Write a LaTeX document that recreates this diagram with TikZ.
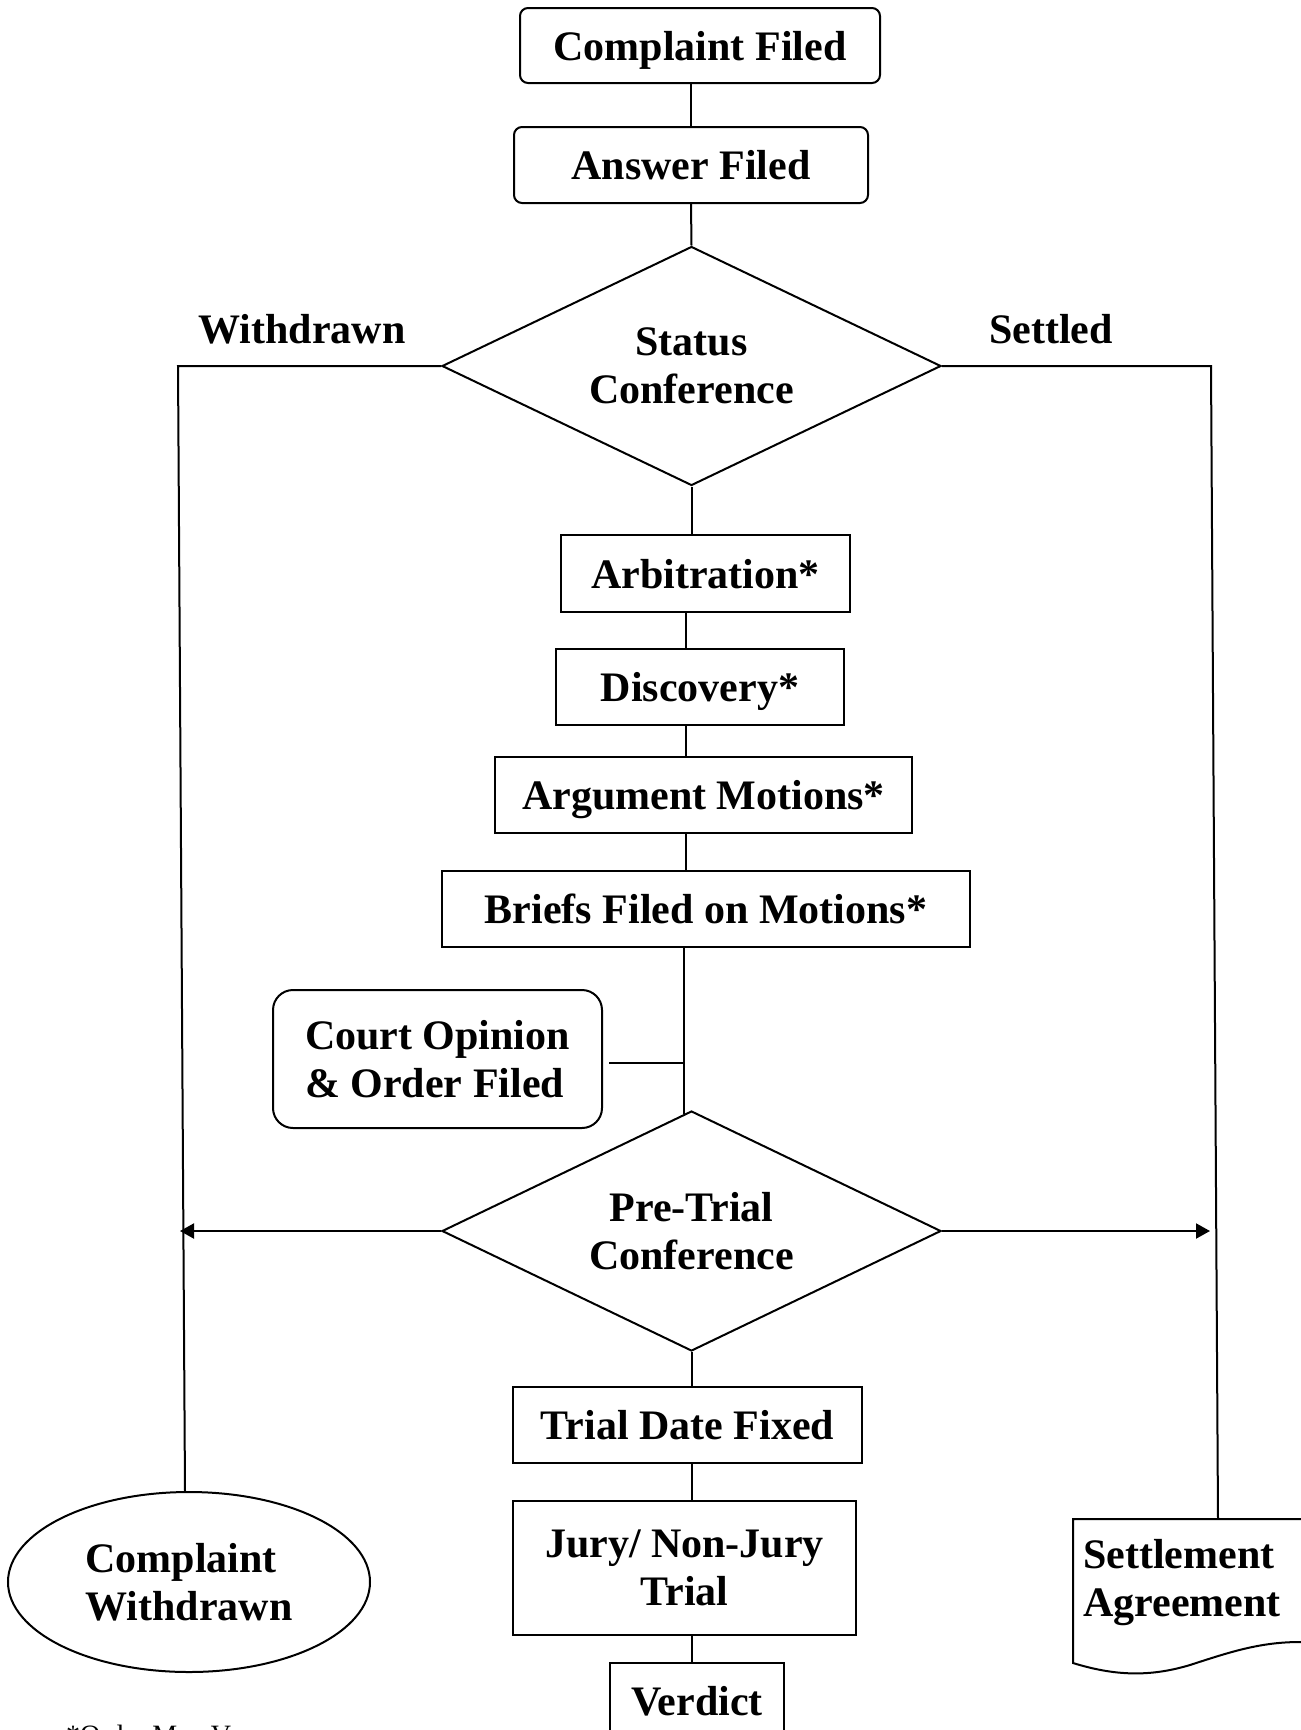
\documentclass[tikz,border=0pt]{standalone}
\usepackage{fontspec}
\setmainfont{Liberation Serif}
\usetikzlibrary{shapes.geometric,arrows.meta,calc}
\begin{document}
\begin{tikzpicture}[x=1pt,y=-1pt,
  every node/.style={font=\bfseries\fontsize{42}{48}\selectfont, inner sep=0pt},
  box/.style={draw, line width=2pt, text height=29pt, text depth=0pt},
  rbox/.style={box, rounded corners=8pt},
  dia/.style={draw, diamond, shape aspect=2, line width=2pt, align=center},
  conn/.style={line width=2pt},
  arr/.style={line width=2pt, -{Triangle[length=14pt,width=15pt]}},
  lbl/.style={anchor=base}
]
\useasboundingbox (0,0) rectangle (1301,1730);
\clip (0,0) rectangle (1301,1730);
\fill[white] (0,0) rectangle (1301,1730);

% nodes
\node[rbox, minimum width=360pt, minimum height=75pt] (complaint) at (700,45.5) {Complaint Filed};
\node[rbox, minimum width=354pt, minimum height=76pt] (answer) at (691,165) {Answer Filed};
\node[dia, minimum width=499pt, minimum height=239pt] (status) at (691.5,366) {Status\\Conference};
\node[lbl] (withdrawn) at (302,343) {Withdrawn};
\node[lbl] (settled) at (1051,343) {Settled};

\node[box, minimum width=289pt, minimum height=77pt] (arbitration) at (705.5,573.5) {Arbitration*};
\node[box, minimum width=288pt, minimum height=76pt] (discovery) at (700,687) {Discovery*};
\node[box, minimum width=417pt, minimum height=76pt] (argument) at (703.5,795) {Argument Motions*};
\node[box, minimum width=528pt, minimum height=76pt] (briefs) at (706,909) {Briefs Filed on Motions*};

\node[draw, line width=2pt, rounded corners=20pt, minimum width=329pt, minimum height=138pt, align=left] (court) at (437.5,1059) {Court Opinion\\\& Order Filed};

\node[dia, minimum width=499pt, minimum height=240pt] (pretrial) at (691.5,1231) {Pre-Trial\\Conference};

\node[box, minimum width=349pt, minimum height=76pt] (trial) at (687.5,1425) {Trial Date Fixed};
\node[draw, line width=2pt, minimum width=343pt, minimum height=134pt, align=center] (jury) at (684.5,1568) {Jury/ Non-Jury\\Trial};
\node[box, minimum width=174pt, minimum height=76pt] (verdict) at (697,1701) {Verdict};

\node[draw, ellipse, line width=2pt, minimum width=362pt, minimum height=180pt, align=left] (cw) at (189,1582) {Complaint\\Withdrawn};

% settlement agreement (document shape)
\draw[line width=2pt] (1073,1519) -- (1390,1519) -- (1390,1640) -- (1300,1642)
  .. controls (1260,1642) and (1230,1652) .. (1190,1665)
  .. controls (1150,1677) and (1115,1676) .. (1073,1663) -- cycle;
\node[anchor=west, align=left] (settle) at (1083,1582.5) {Settlement\\Agreement};

\node[font=\fontsize{28}{32}\selectfont, anchor=base west] (note) at (66,1744) {*Order May Vary};

% coordinates
\coordinate (sp) at (686,0);
\coordinate (sp2) at (684,0);
\coordinate (wtop) at (178,366);
\coordinate (stop) at (1211,366);
\coordinate (settop) at (1218,1519);
\coordinate (cwin) at ($(cw.north)+(-4,0)$);
\coordinate (larr) at (180,1231);
\coordinate (rarr) at (1210,1231);
\coordinate (cs) at ($(court.east)+(6,4)$);

% connectors
\draw[conn] (answer.north) -- (answer.north |- complaint.south);
\draw[conn] (answer.south) -- (status.north);
\draw[conn] (status.south) -- (arbitration.north -| status.south);
\draw[conn] (arbitration.south -| sp) -- (discovery.north -| sp);
\draw[conn] (discovery.south -| sp) -- (argument.north -| sp);
\draw[conn] (argument.south -| sp) -- (briefs.north -| sp);
\draw[conn] (briefs.south -| sp2) -- ($(pretrial.north -| sp2)+(0,4)$);
\draw[conn] (cs) -- (cs -| sp2);
\draw[conn] (pretrial.south) -- (trial.north -| pretrial.south);
\draw[conn] (trial.south -| pretrial.south) -- (jury.north -| pretrial.south);
\draw[conn] (jury.south -| pretrial.south) -- (verdict.north -| pretrial.south);

\draw[conn] (status.west) -- (wtop) -- (cwin);
\draw[conn] (status.east) -- (stop) -- (settop);
\draw[arr] (pretrial.west) -- (larr);
\draw[arr] (pretrial.east) -- (rarr);
\end{tikzpicture}
\end{document}
